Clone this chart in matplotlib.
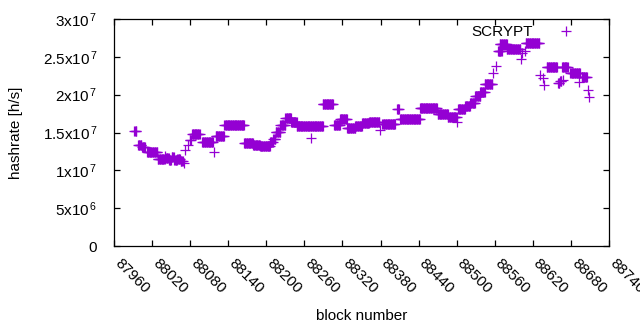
import numpy as np
import matplotlib
matplotlib.use("Agg")
import matplotlib.pyplot as plt
from matplotlib.transforms import ScaledTranslation

plt.rcParams['font.family'] = ['Liberation Sans', 'DejaVu Sans']
plt.rcParams['mathtext.fontset'] = 'custom'
plt.rcParams['mathtext.rm'] = 'Liberation Sans'
plt.rcParams['mathtext.it'] = 'Liberation Sans'

# Plateaus of constant hashrate: first block, last block, hashrate (x1e7 h/s)
seg_start = [87992, 87998, 88004, 88012, 88029, 88040, 88042, 88047, 88051, 88055,
             88060, 88065, 88070, 88072, 88076, 88079, 88083, 88099, 88118, 88120,
             88134, 88165, 88179, 88190, 88206, 88211, 88215, 88222, 88230, 88239,
             88248, 88270, 88289, 88307, 88316, 88327, 88340, 88351, 88362, 88379,
             88383, 88406, 88411, 88442, 88470, 88486, 88500, 88502, 88513, 88521,
             88529, 88537, 88544, 88557, 88562, 88565, 88568, 88579, 88602, 88603,
             88608, 88609, 88631, 88636, 88637, 88642, 88660, 88663, 88666, 88668,
             88679, 88693, 88697, 88707, 88708]
seg_end = [87995, 88003, 88009, 88028, 88040, 88040, 88046, 88050, 88054, 88059,
           88064, 88068, 88070, 88072, 88076, 88081, 88095, 88116, 88118, 88133,
           88165, 88179, 88190, 88206, 88210, 88214, 88222, 88230, 88239, 88248,
           88289, 88270, 88305, 88316, 88327, 88340, 88351, 88362, 88378, 88379,
           88403, 88409, 88442, 88469, 88486, 88500, 88500, 88513, 88521, 88529,
           88537, 88544, 88556, 88557, 88562, 88571, 88579, 88600, 88602, 88603,
           88608, 88630, 88631, 88636, 88637, 88658, 88662, 88665, 88675, 88668,
           88694, 88693, 88705, 88707, 88708]
seg_value = [1.52, 1.34, 1.31, 1.24, 1.15, 1.19, 1.16, 1.13, 1.17, 1.14,
             1.15, 1.12, 1.10, 1.27, 1.34, 1.40, 1.48, 1.37, 1.24, 1.45,
             1.60, 1.36, 1.34, 1.32, 1.38, 1.42, 1.51, 1.60, 1.69, 1.64,
             1.59, 1.43, 1.88, 1.60, 1.68, 1.56, 1.58, 1.63, 1.64, 1.53,
             1.61, 1.81, 1.68, 1.82, 1.74, 1.70, 1.64, 1.81, 1.85, 1.89,
             1.98, 2.03, 2.14, 2.28, 2.38, 2.58, 2.67, 2.60, 2.47, 2.55,
             2.58, 2.68, 2.26, 2.22, 2.13, 2.36, 2.15, 2.18, 2.36, 2.19,
             2.28, 2.17, 2.23, 2.06, 1.97]

xtick_values = [87960, 88020, 88080, 88140, 88200, 88260, 88320, 88380,
                88440, 88500, 88560, 88620, 88680, 88740]
ytick_values = [0, 5e6, 1e7, 1.5e7, 2e7, 2.5e7, 3e7]
ytick_labels = ['0', r'5x10$^{\,6}$', r'1x10$^{\,7}$', r'1.5x10$^{\,7}$',
                r'2x10$^{\,7}$', r'2.5x10$^{\,7}$', r'3x10$^{\,7}$']

blocks = []
rates = []
for s, e, v in zip(seg_start, seg_end, seg_value):
    for b in range(s, e + 1):
        blocks.append(b)
        rates.append(v * 1e7)

fig = plt.figure(figsize=(6.4, 3.3), dpi=100)
ax = fig.add_axes([114/640, 84/330, 495/640, 227/330])

ax.plot(blocks, rates, linestyle='none', marker='+', markersize=6.5,
        markeredgewidth=0.9, color='#9400D3', label='SCRYPT')

ax.set_xlim(87960, 88740)
ax.set_ylim(0, 3e7)
ax.set_xticks(xtick_values)
ax.set_xticklabels([str(v) for v in xtick_values], rotation=-45,
                   ha='left', va='baseline', rotation_mode='anchor')
offset = ScaledTranslation(2/100, 0, fig.dpi_scale_trans)
for lab in ax.get_xticklabels():
    lab.set_transform(lab.get_transform() + offset)
ax.set_yticks(ytick_values)
ax.set_yticklabels(ytick_labels)
ax.tick_params(direction='in', length=4, width=0.9, top=True, right=True,
               labelsize=11, colors='black')
ax.tick_params(axis='x', pad=13)
ax.tick_params(axis='y', pad=12)
for sp in ax.spines.values():
    sp.set_linewidth(0.9)

ax.set_xlabel('block number', fontsize=11, labelpad=9)
ax.set_ylabel('hashrate [h/s]', fontsize=11, labelpad=14)

ax.legend(loc='center right', bbox_to_anchor=(0.943, 0.943), frameon=False,
          markerfirst=False, handlelength=2.0, handletextpad=1.16,
          borderpad=0, borderaxespad=0, fontsize=11, numpoints=1)

fig.savefig('out.png', dpi=100)
